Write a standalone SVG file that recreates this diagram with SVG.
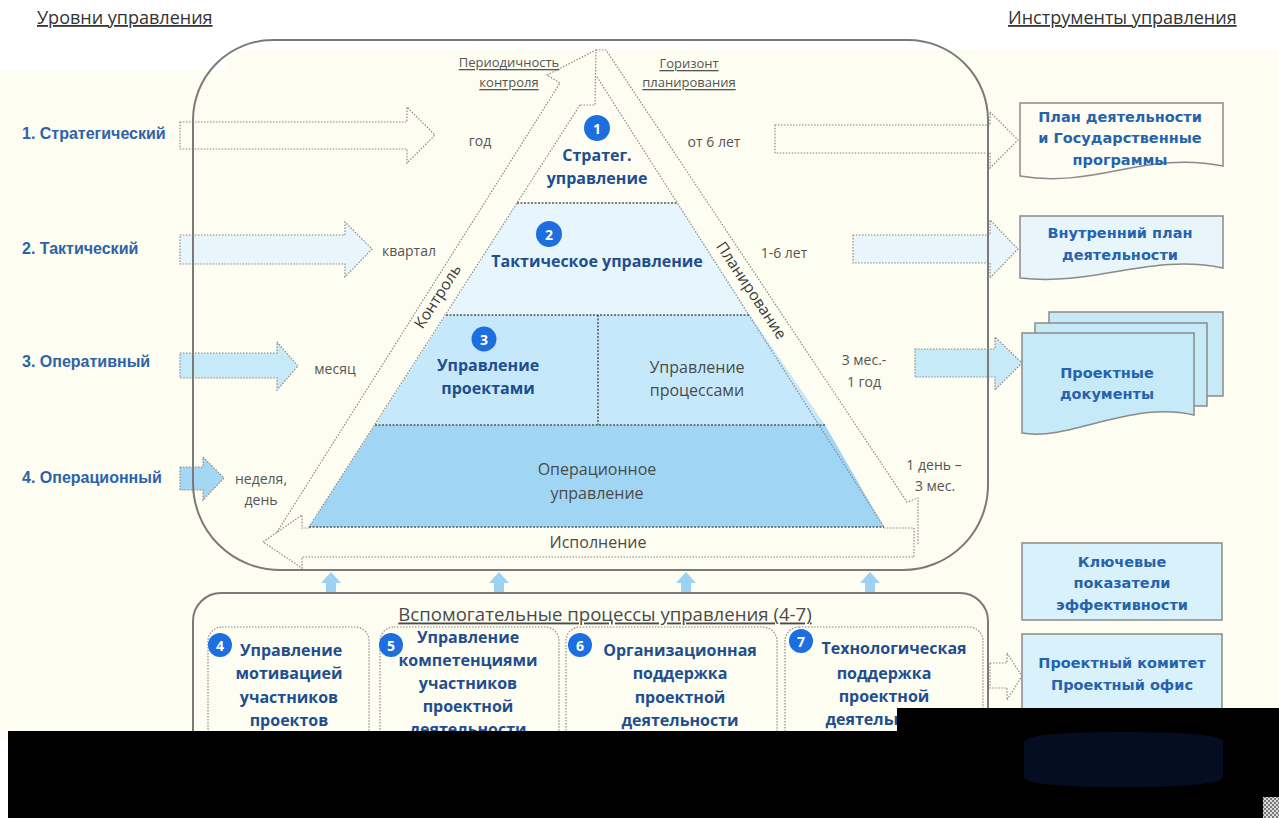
<svg xmlns="http://www.w3.org/2000/svg" width="1279" height="818" viewBox="0 0 1279 818">
<defs>
<style>
.dot{fill:none;stroke:#8a8a8a;stroke-width:1.2;stroke-dasharray:1.5 1.5}
.dotd{fill:none;stroke:#555;stroke-width:1.5;stroke-dasharray:2 1.5}
.arr{stroke:#8a8a8a;stroke-width:1.2;stroke-dasharray:1.5 1.5}
.frame{fill:none;stroke:#7a7a7a;stroke-width:2}
.lvl{font-family:"Liberation Sans",Arial,sans-serif;font-size:16px;font-weight:bold;fill:#2e63a8}
.gray{font-family:"Open Sans",sans-serif;font-size:14px;fill:#555}
.graym{font-family:"Open Sans",sans-serif;font-size:16px;fill:#4a4a4a}
.side{font-family:"Open Sans",sans-serif;font-size:15.5px;fill:#3a3a3a}
.sub{font-family:"Open Sans",sans-serif;font-size:18.6px;fill:#4a4a4a;text-decoration:underline}
.pb{font-family:"Open Sans",sans-serif;font-size:16px;font-weight:bold;fill:#1f4e8f}
.doc{font-family:"DejaVu Sans",sans-serif;font-size:14.5px;font-weight:bold;fill:#2763ad}
.title{font-family:"Open Sans",sans-serif;font-size:18px;fill:#333;text-decoration:underline}
.small{font-family:"Open Sans",sans-serif;font-size:13px;fill:#555;text-decoration:underline}
.num{font-family:"Open Sans",sans-serif;font-size:14px;font-weight:bold;fill:#fff}
.circ{fill:#1d6fe0}
.docbox{stroke:#8a8a8a;stroke-width:1.5}
.up{fill:#9dd1f1}
</style>
<pattern id="chk" width="4" height="4" patternUnits="userSpaceOnUse">
<rect width="4" height="4" fill="#ddd"/><rect width="2" height="2" fill="#777"/><rect x="2" y="2" width="2" height="2" fill="#777"/>
</pattern>
</defs>

<rect x="0" y="0" width="1279" height="818" fill="#ffffff"/>
<rect x="0" y="70" width="1279" height="670" fill="#fdfdf1"/>
<rect x="228" y="50" width="1051" height="21" fill="#fdfdf1"/>

<g id="titles">
<text class="title" x="37" y="24">Уровни управления</text>
<text class="title" x="1008" y="24">Инструменты управления</text>
</g>

<g id="level-labels">
<text class="lvl" x="22" y="139">1. Стратегический</text>
<text class="lvl" x="22" y="254">2. Тактический</text>
<text class="lvl" x="22" y="367">3. Оперативный</text>
<text class="lvl" x="22" y="483">4. Операционный</text>
</g>

<g id="connectors">
<path class="arr" fill="#fdfdf1" d="M180,122 H407 V107 L435,135 L407,163 V149 H180 Z"/>
<path class="arr" fill="#e8f6fc" d="M180,235 H345 V222 L372,249 L345,277 V264 H180 Z"/>
<path class="arr" fill="#c7eaf9" d="M180,353 H277 V342 L298,366 L277,390 V378 H180 Z"/>
<path class="arr" fill="#a4d7f4" d="M180,467 H203 V457 L224,478 L203,500 V490 H180 Z"/>
<path class="arr" fill="#fdfdf1" d="M775,125 H990 V112 L1018,140 L990,168 V153 H775 Z"/>
<path class="arr" fill="#e8f6fc" d="M853,235 H990 V220 L1018,249 L990,278 V263 H853 Z"/>
<path class="arr" fill="#c7eaf9" d="M915,349 H995 V337 L1022,363 L995,390 V377 H915 Z"/>
<path class="arr" fill="#fdfdf1" d="M990,663 H1007 V653 L1022,676 L1007,700 V688 H990 Z"/>
<path class="up" d="M321,583 L331,572 L341,583 L336,583 L336,593 L326,593 L326,583 Z"/>
<path class="up" d="M489,583 L499,572 L509,583 L504,583 L504,593 L494,593 L494,583 Z"/>
<path class="up" d="M676,583 L686,572 L696,583 L691,583 L691,593 L681,593 L681,583 Z"/>
<path class="up" d="M860,583 L870,572 L880,583 L875,583 L875,593 L865,593 L865,583 Z"/>
</g>

<g id="main-frame">
<path class="frame" d="M273,40 H908 A80,80 0 0 1 988,120 V485 A85,85 0 0 1 903,570 H280 A87,87 0 0 1 193,483 V120 A80,80 0 0 1 273,40 Z"/>
</g>

<g id="pyramid">
<polygon points="597,77 678,203 517,203" fill="#fdfdf3"/>
<polygon points="517,203 678,203 750,315 446,315" fill="#e7f6fc"/>
<polygon points="446,315 750,315 825,425 375,425" fill="#c5e9fa"/>
<polygon points="375,425 825,425 884,527 309,527" fill="#a0d6f4"/>
<line class="dot" x1="580" y1="105" x2="309" y2="527"/>
<line class="dot" x1="597" y1="77" x2="884" y2="527"/>
<line class="dotd" x1="517" y1="203" x2="678" y2="203"/>
<line class="dotd" x1="446" y1="315" x2="750" y2="315"/>
<line class="dotd" x1="375" y1="425" x2="825" y2="425"/>
<line class="dotd" x1="598" y1="315" x2="598" y2="425"/>
<line class="dotd" x1="309" y1="527" x2="884" y2="527"/>
</g>

<g id="cycle-arrows">
<path class="dot" d="M277,532 L560,83 L547,75 L596,50 L595,105 L580,105"/>
<path class="dot" d="M596,50 L606,50 L907,502 L918,498 L918,545"/>
<path class="dot" d="M884,528 L914,528 L914,557 L302,557 L302,568 L263,542 L302,515 L302,528 L309,528"/>
<text class="side" transform="translate(437,296) rotate(-57.3)" text-anchor="middle" dominant-baseline="central">Контроль</text>
<text class="side" transform="translate(752,290) rotate(56.3)" text-anchor="middle" dominant-baseline="central">Планирование</text>
<text class="graym" x="598" y="542" text-anchor="middle" dominant-baseline="central">Исполнение</text>
</g>

<g id="periods">
<text class="small" x="509" y="62" text-anchor="middle" dominant-baseline="central">Периодичность</text>
<text class="small" x="509" y="82" text-anchor="middle" dominant-baseline="central">контроля</text>
<text class="small" x="689" y="63" text-anchor="middle" dominant-baseline="central">Горизонт</text>
<text class="small" x="689" y="82" text-anchor="middle" dominant-baseline="central">планирования</text>
<text class="gray" x="480" y="140" text-anchor="middle" dominant-baseline="central">год</text>
<text class="gray" x="409" y="250" text-anchor="middle" dominant-baseline="central">квартал</text>
<text class="gray" x="335" y="368" text-anchor="middle" dominant-baseline="central">месяц</text>
<text class="gray" x="261" y="478" text-anchor="middle" dominant-baseline="central">неделя,</text>
<text class="gray" x="261" y="499" text-anchor="middle" dominant-baseline="central">день</text>
<text class="gray" x="714" y="141" text-anchor="middle" dominant-baseline="central">от 6 лет</text>
<text class="gray" x="784" y="252" text-anchor="middle" dominant-baseline="central">1-6 лет</text>
<text class="gray" x="864" y="359" text-anchor="middle" dominant-baseline="central">3 мес.-</text>
<text class="gray" x="864" y="381" text-anchor="middle" dominant-baseline="central">1 год</text>
<text class="gray" x="934" y="464" text-anchor="middle" dominant-baseline="central">1 день –</text>
<text class="gray" x="935" y="485" text-anchor="middle" dominant-baseline="central">3 мес.</text>
</g>

<g id="level1">
<circle class="circ" cx="597" cy="128" r="13"/>
<text class="num" x="597" y="128" text-anchor="middle" dominant-baseline="central">1</text>
<text class="pb" x="597" y="155" text-anchor="middle" dominant-baseline="central">Стратег.</text>
<text class="pb" x="597" y="178" text-anchor="middle" dominant-baseline="central">управление</text>
</g>
<g id="level2">
<circle class="circ" cx="549" cy="234" r="13"/>
<text class="num" x="549" y="234" text-anchor="middle" dominant-baseline="central">2</text>
<text class="pb" x="597" y="261" text-anchor="middle" dominant-baseline="central">Тактическое управление</text>
</g>
<g id="level3a">
<circle class="circ" cx="484" cy="339" r="12.5"/>
<text class="num" x="484" y="339" text-anchor="middle" dominant-baseline="central">3</text>
<text class="pb" x="488" y="365" text-anchor="middle" dominant-baseline="central">Управление</text>
<text class="pb" x="488" y="388" text-anchor="middle" dominant-baseline="central">проектами</text>
</g>
<g id="level3b">
<text class="graym" x="697" y="367" text-anchor="middle" dominant-baseline="central">Управление</text>
<text class="graym" x="697" y="390" text-anchor="middle" dominant-baseline="central">процессами</text>
</g>
<g id="level4">
<text class="graym" x="597" y="469" text-anchor="middle" dominant-baseline="central">Операционное</text>
<text class="graym" x="597" y="493" text-anchor="middle" dominant-baseline="central">управление</text>
</g>

<g id="doc-plan">
<path class="docbox" fill="#fdfdf3" d="M1020,103 H1223 V166 C1185,158 1150,164 1120,170 C1085,177 1055,182 1020,176 Z"/>
<text class="doc" x="1120" y="117" text-anchor="middle" dominant-baseline="central">План деятельности</text>
<text class="doc" x="1120" y="138" text-anchor="middle" dominant-baseline="central">и Государственные</text>
<text class="doc" x="1120" y="160" text-anchor="middle" dominant-baseline="central">программы</text>
</g>
<g id="doc-internal">
<path class="docbox" fill="#e8f6fc" d="M1020,216 H1223 V268 C1185,260 1150,266 1120,271 C1085,277 1055,282 1020,278 Z"/>
<text class="doc" x="1120" y="233" text-anchor="middle" dominant-baseline="central">Внутренний план</text>
<text class="doc" x="1120" y="255" text-anchor="middle" dominant-baseline="central">деятельности</text>
</g>
<g id="doc-project">
<rect class="docbox" fill="#c7eaf9" x="1049" y="312" width="174" height="84"/>
<rect class="docbox" fill="#c7eaf9" x="1035" y="323" width="172" height="83"/>
<path class="docbox" fill="#c7eaf9" d="M1022,333 H1194 V415 C1160,407 1130,415 1100,422 C1070,430 1045,437 1022,433 Z"/>
<text class="doc" x="1107" y="373" text-anchor="middle" dominant-baseline="central">Проектные</text>
<text class="doc" x="1107" y="394" text-anchor="middle" dominant-baseline="central">документы</text>
</g>
<g id="kpi">
<rect class="docbox" fill="#d8f1fb" x="1022" y="543" width="200" height="77"/>
<text class="doc" x="1122" y="562" text-anchor="middle" dominant-baseline="central">Ключевые</text>
<text class="doc" x="1122" y="583" text-anchor="middle" dominant-baseline="central">показатели</text>
<text class="doc" x="1122" y="605" text-anchor="middle" dominant-baseline="central">эффективности</text>
</g>
<g id="committee">
<rect class="docbox" fill="#d8f1fb" x="1022" y="634" width="200" height="95"/>
<text class="doc" x="1122" y="663" text-anchor="middle" dominant-baseline="central">Проектный комитет</text>
<text class="doc" x="1122" y="685" text-anchor="middle" dominant-baseline="central">Проектный офис</text>
</g>

<g id="support">
<path class="frame" fill="#fdfdf1" d="M221,593 H960 A28,28 0 0 1 988,621 V760 H193 V621 A28,28 0 0 1 221,593 Z"/>
<text class="sub" x="605" y="613" text-anchor="middle" dominant-baseline="central">Вспомогательные процессы управления (4-7)</text>
</g>
<g id="proc4">
<rect class="dot" fill="#dcf2fb" x="208" y="627" width="161" height="115" rx="14"/>
<circle class="circ" cx="220" cy="645" r="12"/>
<text class="num" x="220" y="645" text-anchor="middle" dominant-baseline="central">4</text>
<text class="pb" x="291" y="650" text-anchor="middle" dominant-baseline="central">Управление</text>
<text class="pb" x="289" y="673" text-anchor="middle" dominant-baseline="central">мотивацией</text>
<text class="pb" x="289" y="697" text-anchor="middle" dominant-baseline="central">участников</text>
<text class="pb" x="289" y="720" text-anchor="middle" dominant-baseline="central">проектов</text>
</g>
<g id="proc5">
<rect class="dot" fill="#dcf2fb" x="380" y="627" width="179" height="115" rx="14"/>
<circle class="circ" cx="391" cy="645" r="12"/>
<text class="num" x="391" y="645" text-anchor="middle" dominant-baseline="central">5</text>
<text class="pb" x="468" y="637" text-anchor="middle" dominant-baseline="central">Управление</text>
<text class="pb" x="468" y="660" text-anchor="middle" dominant-baseline="central">компетенциями</text>
<text class="pb" x="468" y="683" text-anchor="middle" dominant-baseline="central">участников</text>
<text class="pb" x="468" y="706" text-anchor="middle" dominant-baseline="central">проектной</text>
<text class="pb" x="468" y="729" text-anchor="middle" dominant-baseline="central">деятельности</text>
</g>
<g id="proc6">
<rect class="dot" fill="#dcf2fb" x="566" y="627" width="211" height="115" rx="14"/>
<circle class="circ" cx="580" cy="645" r="12"/>
<text class="num" x="580" y="645" text-anchor="middle" dominant-baseline="central">6</text>
<text class="pb" x="680" y="650" text-anchor="middle" dominant-baseline="central">Организационная</text>
<text class="pb" x="680" y="673" text-anchor="middle" dominant-baseline="central">поддержка</text>
<text class="pb" x="680" y="697" text-anchor="middle" dominant-baseline="central">проектной</text>
<text class="pb" x="680" y="720" text-anchor="middle" dominant-baseline="central">деятельности</text>
</g>
<g id="proc7">
<rect class="dot" fill="#dcf2fb" x="785" y="627" width="198" height="115" rx="14"/>
<circle class="circ" cx="801" cy="641" r="12"/>
<text class="num" x="801" y="641" text-anchor="middle" dominant-baseline="central">7</text>
<text class="pb" x="894" y="648" text-anchor="middle" dominant-baseline="central">Технологическая</text>
<text class="pb" x="884" y="673" text-anchor="middle" dominant-baseline="central">поддержка</text>
<text class="pb" x="884" y="696" text-anchor="middle" dominant-baseline="central">проектной</text>
<text class="pb" x="884" y="719" text-anchor="middle" dominant-baseline="central">деятельности</text>
</g>

<g id="occlusion">
<path d="M8,731 H897 V708 H1279 V818 H8 Z" fill="#000"/>
<path d="M1024,742 Q1024,732 1123,732 Q1223,732 1223,742 V777 Q1223,787 1123,787 Q1024,787 1024,777 Z" fill="#050d22"/>
<rect x="1263" y="797" width="16" height="21" fill="url(#chk)"/>
</g>
</svg>
